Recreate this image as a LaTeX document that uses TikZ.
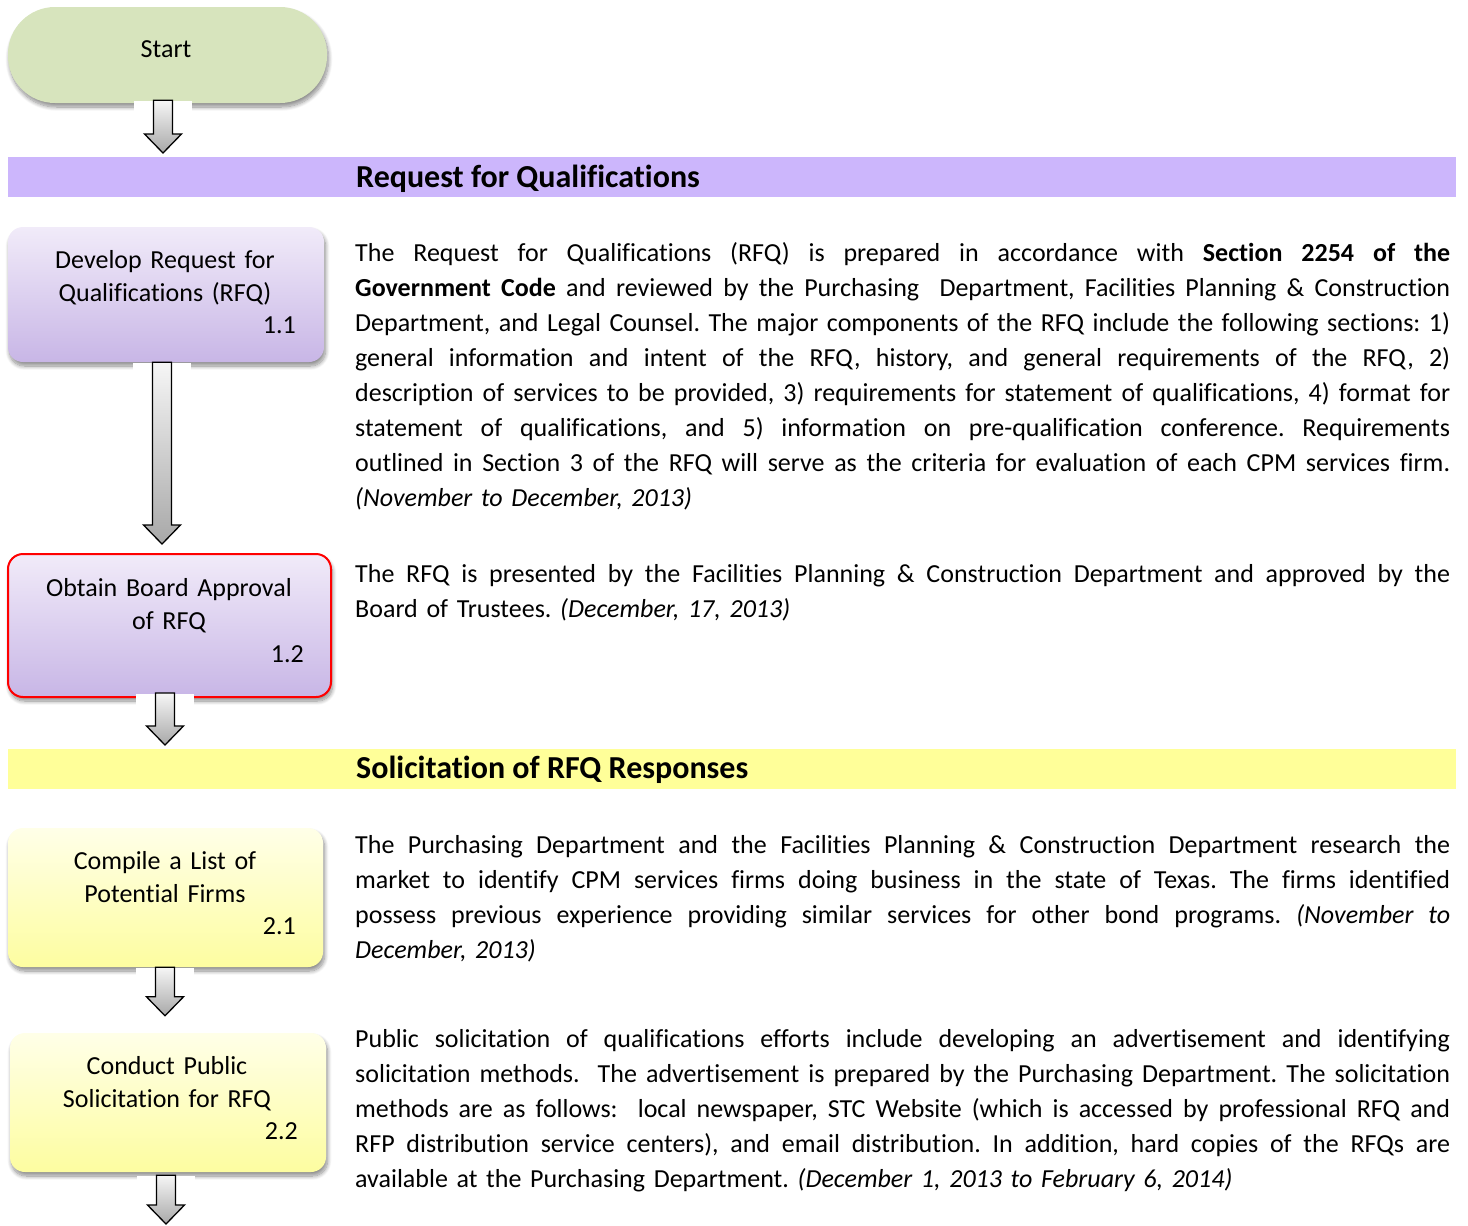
\documentclass[tikz,border=0pt]{standalone}
\usepackage{fontspec}
\setmainfont[Ligatures=NoCommon]{Carlito}
\frenchspacing
\usetikzlibrary{calc,shadows.blur}

\definecolor{pillgreen}{RGB}{215,228,189}
\definecolor{banlav}{RGB}{204,182,252}
\definecolor{banyel}{RGB}{255,255,153}
\definecolor{lavtop}{RGB}{241,235,249}
\definecolor{lavbot}{RGB}{200,182,230}
\definecolor{yeltop}{RGB}{255,255,232}
\definecolor{yelbot}{RGB}{253,253,160}
\definecolor{arrtop}{RGB}{246,246,246}
\definecolor{arrbot}{RGB}{168,168,168}

\tikzset{
  x=1pt, y=-1pt,
  softshadow/.style={blur shadow={shadow xshift=1.5pt, shadow yshift=-4pt,
      shadow blur radius=4pt, shadow blur steps=10, shadow opacity=45}},
  pill/.style={rectangle, rounded corners=47pt, fill=pillgreen, softshadow,
      inner sep=0pt, minimum width=319pt, minimum height=96pt},
  lavbox/.style={rectangle, rounded corners=15pt, top color=lavtop,
      bottom color=lavbot, softshadow, inner sep=0pt},
  yelbox/.style={rectangle, rounded corners=15pt, top color=yeltop,
      bottom color=yelbot, softshadow, inner sep=0pt},
  banner/.style={rectangle, inner sep=0pt, anchor=north west,
      minimum width=1448pt, minimum height=40pt},
  heading/.style={anchor=base west, inner sep=0pt,
      font=\fontsize{32pt}{36pt}\selectfont\bfseries},
  boxtext/.style={anchor=base, inner sep=0pt, text width=316pt, align=center,
      font=\fontsize{26pt}{33pt}\selectfont},
  boxnum/.style={anchor=base east, inner sep=0pt,
      font=\fontsize{26pt}{33pt}\selectfont},
  para/.style={anchor=base west, inner sep=0pt, text width=1095pt, align=left,
      font=\fontsize{26pt}{35pt}\selectfont},
  blockarrow/.style={draw=black, line width=1.3pt, top color=arrtop,
      bottom color=arrbot, line join=miter},
}

% one justified line of a paragraph: word spaces stretch to the full width
\newcommand\jl[1]{\makebox[1095pt][s]{%
  \spaceskip=\fontdimen2\font plus 1fil minus \fontdimen4\font\relax #1}}

% block arrow at x=#1 from point #2 down to tip #3, on a white backing
\newcommand\blockarrow[3]{%
  \fill[white] let \p1=#2, \p2=#3 in
    (#1-29pt,\y1-1pt) rectangle (#1+29pt,\y2-3pt);
  \draw[blockarrow] let \p1=#2, \p2=#3 in
    (#1-9.5pt,\y1) -- (#1+9.5pt,\y1) -- (#1+9.5pt,\y2+19pt)
    -- (#1+18.5pt,\y2+19pt) -- (#1,\y2) -- (#1-18.5pt,\y2+19pt)
    -- (#1-9.5pt,\y2+19pt) -- cycle;}

\begin{document}
\begin{tikzpicture}
\useasboundingbox (0,0) rectangle (1468,1226);

% start terminal
\node[pill] (start) at (167.5,55) {};
\node[boxtext] (start-t) at (166,57) {Start};

% section banners
\node[banner, fill=banlav] (banA) at (8,157) {};
\node[heading] (banA-t) at (356,187) {Request for Qualifications};
\node[banner, fill=banyel] (banB) at (8,749) {};
\node[heading] (banB-t) at (356,778) {Solicitation of RFQ Responses};

% process steps
\node[lavbox, minimum width=316pt, minimum height=135pt] (b11) at (166,294.5) {};
\node[lavbox, draw=red, line width=2pt, minimum width=323pt, minimum height=143pt] (b12) at (169.5,625.5) {};
\node[yelbox, minimum width=315pt, minimum height=139pt] (b21) at (165.5,897.5) {};
\node[yelbox, minimum width=316pt, minimum height=139pt] (b22) at (168,1102.5) {};

\node[boxtext] (b11-t) at (165,268) {Develop Request for\\Qualifications (RFQ)};
\node[boxnum] (b11-n) at (296,333) {1.1};
\node[boxtext] (b12-t) at (169,596) {Obtain Board Approval\\of RFQ};
\node[boxnum] (b12-n) at (304,662) {1.2};
\node[boxtext] (b21-t) at (165,869) {Compile a List of\\Potential Firms};
\node[boxnum] (b21-n) at (296,934) {2.1};
\node[boxtext] (b22-t) at (167,1074) {Conduct Public\\Solicitation for RFQ};
\node[boxnum] (b22-n) at (298,1139) {2.2};

\coordinate (endtip) at (166,1224);

% connectors
\blockarrow{163pt}{($(start.south)+(0,-3)$)}{($(banA.north)+(0,-4)$)}
\blockarrow{162pt}{(b11.south)}{($(b12.north)+(0,-9)$)}
\blockarrow{165pt}{($(b12.south)+(0,-5)$)}{($(banB.north)+(0,-4)$)}
\blockarrow{165pt}{(b21.south)}{($(b22.north)+(0,-17)$)}
\blockarrow{166pt}{($(b22.south)+(0,3)$)}{(endtip)}

% descriptions
\node[para] (p11) at (355,261) {%
\jl{The Request for Qualifications (RFQ) is prepared in accordance with \textbf{Section 2254 of the}}\\
\jl{\textbf{Government Code} and reviewed by the Purchasing\ \ Department, Facilities Planning \& Construction}\\
\jl{Department, and Legal Counsel. The major components of the RFQ include the following sections: 1)}\\
\jl{general information and intent of the RFQ, history, and general requirements of the RFQ, 2)}\\
\jl{description of services to be provided, 3) requirements for statement of qualifications, 4) format for}\\
\jl{statement of qualifications, and 5) information on pre-qualification conference. Requirements}\\
\jl{outlined in Section 3 of the RFQ will serve as the criteria for evaluation of each CPM services firm.}\\
\textit{(November to December, 2013)}};

\node[para] (p12) at (355,582) {%
\jl{The RFQ is presented by the Facilities Planning \& Construction Department and approved by the}\\
Board of Trustees. \textit{(December, 17, 2013)}};

\node[para] (p21) at (355,853) {%
\jl{The Purchasing Department and the Facilities Planning \& Construction Department research the}\\
\jl{market to identify CPM services firms doing business in the state of Texas. The firms identified}\\
\jl{possess previous experience providing similar services for other bond programs. \textit{(November to}}\\
\textit{December, 2013)}};

\node[para] (p22) at (355,1047) {%
\jl{Public solicitation of qualifications efforts include developing an advertisement and identifying}\\
\jl{solicitation methods.\ \ The advertisement is prepared by the Purchasing Department. The solicitation}\\
\jl{methods are as follows:\ \ local newspaper, STC Website (which is accessed by professional RFQ and}\\
\jl{RFP distribution service centers), and email distribution. In addition, hard copies of the RFQs are}\\
available at the Purchasing Department. \textit{(December 1, 2013 to February 6, 2014)}};
\end{tikzpicture}
\end{document}
